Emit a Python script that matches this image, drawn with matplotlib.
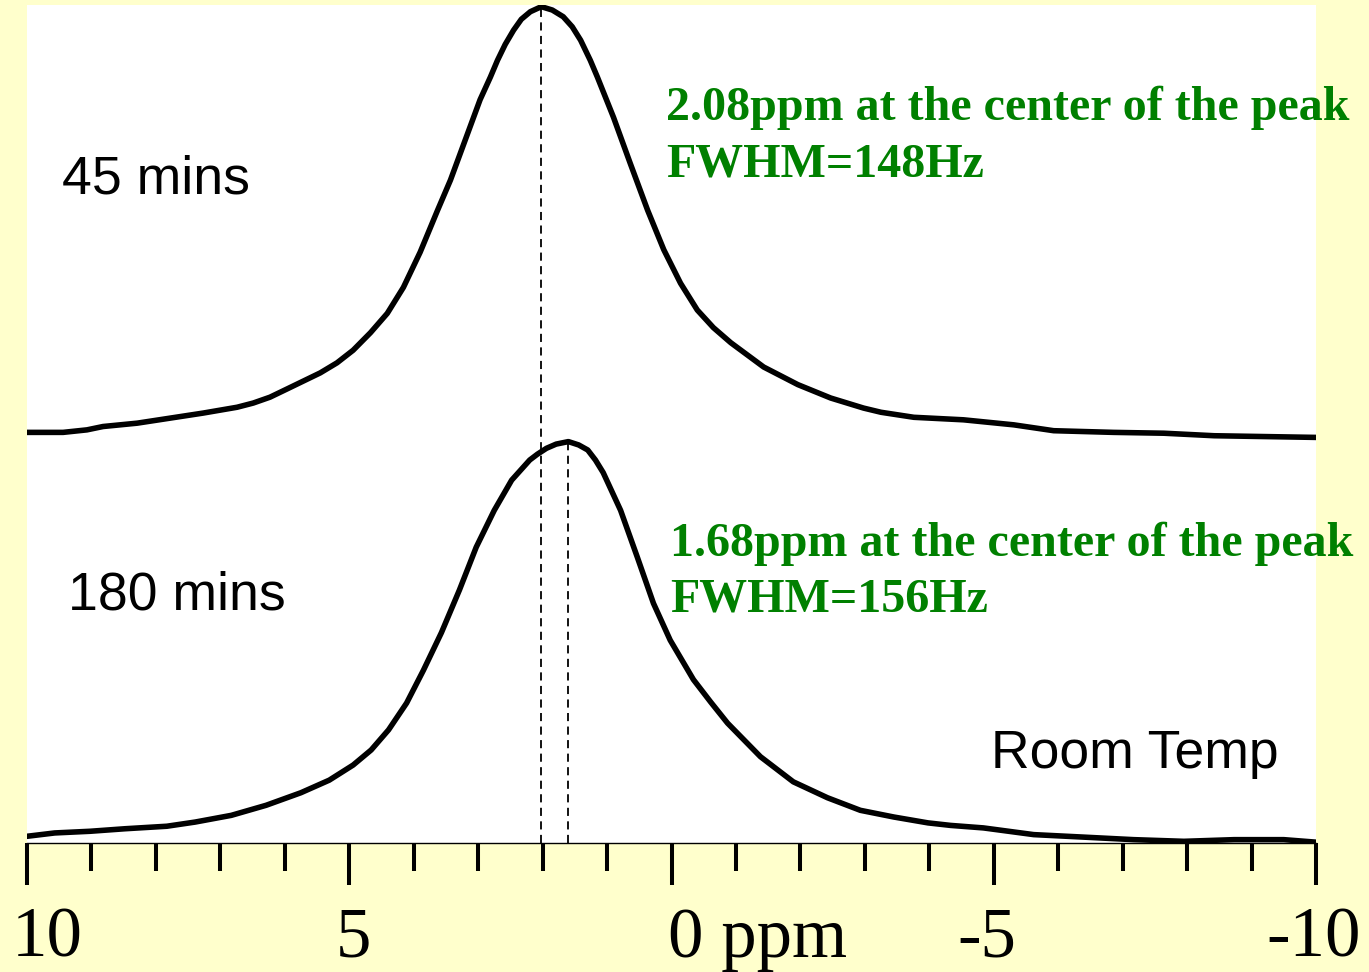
import matplotlib.pyplot as plt
from matplotlib.transforms import ScaledTranslation

# 45 mins spectrum (top trace), chemical shift in ppm and intensity in a.u.
ppm_45 = [10.0, 9.44, 9.07, 8.82, 8.29, 7.78, 7.27, 6.74, 6.49, 6.23, 5.96,
          5.45, 5.19, 4.94, 4.67, 4.41, 4.16, 3.90, 3.63, 3.43, 3.20, 2.97,
          2.81, 2.70, 2.58, 2.45, 2.33, 2.19, 2.02, 1.85, 1.68, 1.54, 1.41,
          1.26, 1.15, 0.90, 0.64, 0.37, 0.12,
          -0.14, -0.40, -0.65, -0.92, -1.43, -1.96, -2.47, -2.98, -3.25, -3.76,
          -4.53, -5.31, -5.93, -6.86, -7.64, -8.42, -10.0]
int_45 = [49.0, 49.0, 49.3, 49.7, 50.1, 50.7, 51.3, 52.0, 52.5, 53.2, 54.2,
          56.1, 57.3, 58.8, 60.9, 63.2, 66.3, 70.5, 75.5, 79.1, 83.9, 88.7,
          91.4, 93.4, 95.3, 97.0, 98.3, 99.2, 99.8, 99.4, 98.6, 97.4, 95.8,
          93.4, 91.4, 86.6, 81.1, 75.5, 70.8,
          66.8, 63.6, 61.5, 59.7, 56.8, 54.7, 53.1, 51.9, 51.4, 50.8,
          50.5, 49.9, 49.2, 49.0, 48.9, 48.6, 48.4]

# 180 mins spectrum (bottom trace)
ppm_180 = [10.0, 9.57, 9.02, 8.48, 7.83, 7.39, 6.83, 6.29, 5.75, 5.31, 4.94,
           4.66, 4.39, 4.11, 3.85, 3.57, 3.29, 3.03, 2.75, 2.48, 2.20, 2.08,
           1.94, 1.79, 1.60, 1.44, 1.30, 1.18, 1.06, 0.79, 0.53, 0.28, 0.02,
           -0.34, -0.61, -0.87, -1.38, -1.89, -2.42, -2.93, -3.45, -3.98, -4.33,
           -4.84, -5.62, -6.40, -7.17, -7.95, -8.73, -9.50, -10.0]
int_180 = [0.8, 1.2, 1.4, 1.7, 2.0, 2.5, 3.3, 4.5, 6.0, 7.5, 9.3,
           11.1, 13.5, 16.7, 20.6, 25.1, 30.2, 35.3, 39.7, 43.3, 45.7, 46.4,
           47.1, 47.6, 47.9, 47.5, 46.9, 45.7, 44.2, 39.7, 34.1, 28.6, 24.2,
           19.5, 16.8, 14.3, 10.3, 7.3, 5.4, 3.9, 3.1, 2.4, 2.1,
           1.8, 1.0, 0.7, 0.4, 0.2, 0.4, 0.4, 0.1]

peak_pos = [2.02, 1.60]
peak_top = [99.8, 47.9]

major_ticks = [10, 5, 0, -5, -10]
major_labels = ["10", "5", "0 ppm", "-5", "-10"]
minor_ticks = list(range(10, -11, -1))

bg = "#FFFFCC"
green = "#008000"

fig = plt.figure(figsize=(13.69, 9.72), dpi=100, facecolor=bg)
ax = fig.add_axes([27 / 1369, 1 - 843 / 972, 1289 / 1369, 838 / 972])
ax.set_facecolor("white")

ax.plot(ppm_45, int_45, color="black", lw=4.0, solid_capstyle="round",
        solid_joinstyle="round")
ax.plot(ppm_180, int_180, color="black", lw=4.0, solid_capstyle="round",
        solid_joinstyle="round")
for p, t in zip(peak_pos, peak_top):
    ax.plot([p, p], [0, t], color="black", lw=1.3, dashes=(4.5, 3))

ax.set_xlim(10, -10)
ax.set_ylim(0, 100)

for s in ["top", "left", "right"]:
    ax.spines[s].set_visible(False)
ax.spines["bottom"].set_linewidth(1.0)
ax.set_yticks([])

ax.set_xticks(major_ticks)
ax.set_xticklabels(major_labels, family="Liberation Serif", fontsize=51)
ax.set_xticks(minor_ticks, minor=True)
ax.tick_params(axis="x", which="major", direction="out", length=30,
               width=2.9, pad=16, color="black")
ax.tick_params(axis="x", which="minor", direction="out", length=20,
               width=2.9, color="black")

# nudge tick labels like the original slide
shifts = [20, 4, -3, -7, -2]
for lab, dx in zip(ax.get_xticklabels(), shifts):
    lab.set_transform(lab.get_transform() + ScaledTranslation(dx / 100, 0, fig.dpi_scale_trans))
ax.get_xticklabels()[2].set_ha("left")

sans = dict(family="Liberation Sans", fontsize=38.5, color="black", va="baseline")
ax.text(9.46, 77.5, "45 mins", **sans)
ax.text(9.36, 27.9, "180 mins", **sans)
ax.text(-4.95, 8.9, "Room Temp", **sans)

serif = dict(family="Liberation Serif", fontsize=34.6, fontweight="bold",
             color=green, va="baseline")
ax.text(0.09, 86.3, "2.08ppm at the center of the peak", **serif)
ax.text(0.09, 79.5, "FWHM=148Hz", **serif)
ax.text(0.02, 34.2, "1.68ppm at the center of the peak", **serif)
ax.text(0.02, 27.6, "FWHM=156Hz", **serif)

fig.savefig("out.png", dpi=100, facecolor=bg)
